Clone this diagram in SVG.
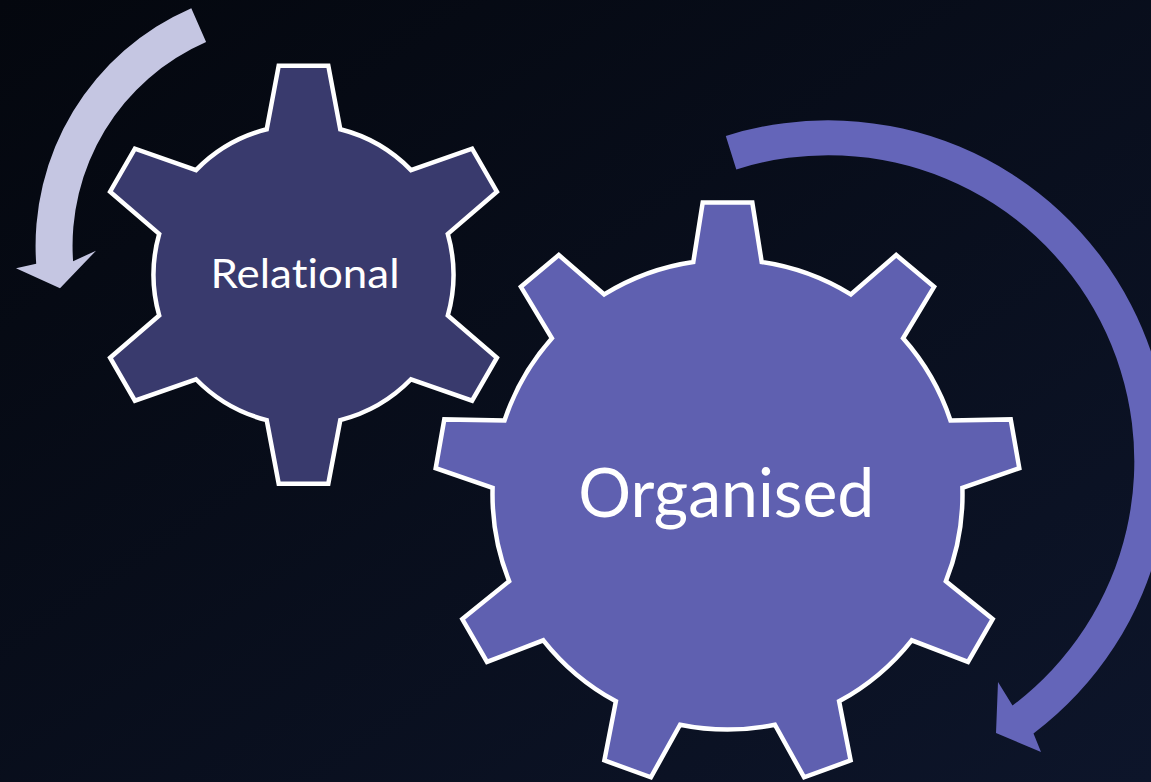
<svg xmlns="http://www.w3.org/2000/svg" width="1151" height="782" viewBox="0 0 1151 782">
  <defs>
    <linearGradient id="bg" x1="0" y1="0" x2="1" y2="1">
      <stop offset="0" stop-color="#04070e"/>
      <stop offset="1" stop-color="#0d152a"/>
    </linearGradient>
    <style>
      .gear { stroke: #ffffff; stroke-width: 4.5; stroke-linejoin: miter; }
      .label { fill: #ffffff; font-family: Lato, "Open Sans", "Liberation Sans", sans-serif; text-anchor: middle; font-variant-ligatures: none; font-feature-settings: "liga" 0, "clig" 0, "dlig" 0; }
    </style>
  </defs>
  <rect x="0" y="0" width="1151" height="782" fill="url(#bg)"/>

  <g id="connectors">
    <path id="arrow-light" fill="#c5c6e2" d="M191.3,8.2 A259 259 0 0 0 36.2,263.8 L16,268.3 L60,288.3 L96,250.7 L73.1,261.2 A222 222 0 0 1 206.1,42.1 Z"/>
    <path id="arrow-dark" fill="#6465b9" d="M725.8,136.0 A341 341 0 0 1 1033.5,733.5 L1041,752 L996,733 L998,682 L1012.5,705.6 A306 306 0 0 0 736.3,169.4 Z"/>
  </g>

  <g id="gear-relational">
    <path class="gear" fill="#393a6d" d="M266.7,129.3 L278.7,65.7 L328.3,65.7 L340.3,129.3 A150 150 0 0 1 411.0,170.1 L472.1,148.7 L496.9,191.7 L447.8,233.9 A150 150 0 0 1 447.8,315.5 L496.9,357.7 L472.1,400.7 L411.0,379.3 A150 150 0 0 1 340.3,420.1 L328.3,483.7 L278.7,483.7 L266.7,420.1 A150 150 0 0 1 196.0,379.3 L134.9,400.7 L110.1,357.7 L159.2,315.5 A150 150 0 0 1 159.2,233.9 L110.1,191.7 L134.9,148.7 L196.0,170.1 A150 150 0 0 1 266.7,129.3 Z"/>
    <text class="label" x="305" y="288.3" font-size="41" textLength="189" lengthAdjust="spacingAndGlyphs">Relational</text>
  </g>

  <g id="gear-organised">
    <path class="gear" fill="#5f60b0" d="M693.3,262.0 L702.7,202.6 L752.3,202.6 L761.7,262.0 A235 235 0 0 1 850.8,294.4 L896.2,255.0 L934.1,286.8 L903.1,338.3 A235 235 0 0 1 950.5,420.5 L1010.7,419.4 L1019.3,468.2 L962.4,487.8 A235 235 0 0 1 945.9,581.2 L992.7,619.0 L968.0,661.9 L911.7,640.3 A235 235 0 0 1 839.1,701.3 L850.6,760.4 L804.1,777.3 L774.9,724.7 A235 235 0 0 1 680.1,724.7 L650.9,777.3 L604.4,760.4 L615.9,701.3 A235 235 0 0 1 543.3,640.3 L487.0,661.9 L462.3,619.0 L509.1,581.2 A235 235 0 0 1 492.6,487.8 L435.7,468.2 L444.3,419.4 L504.5,420.5 A235 235 0 0 1 551.9,338.3 L520.9,286.8 L558.8,255.0 L604.2,294.4 A235 235 0 0 1 693.3,262.0 Z"/>
    <text class="label" x="726.3" y="516.7" font-size="68" textLength="296" lengthAdjust="spacingAndGlyphs">Organised</text>
  </g>
</svg>
